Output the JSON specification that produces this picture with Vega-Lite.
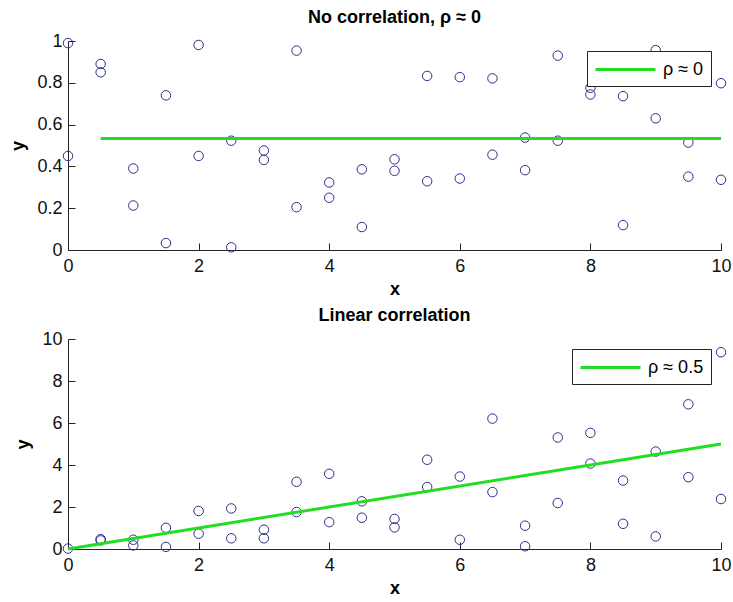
{
  "$schema": "https://vega.github.io/schema/vega-lite/v6.json",
  "padding": {"left": 9, "top": 9, "right": 0, "bottom": 0},
  "background": "white",
  "datasets": {
    "uncorrelated": [
      {"x": 0, "y": 0.99}, {"x": 0, "y": 0.45},
      {"x": 0.5, "y": 0.89}, {"x": 0.5, "y": 0.85},
      {"x": 1, "y": 0.39}, {"x": 1, "y": 0.213},
      {"x": 1.5, "y": 0.74}, {"x": 1.5, "y": 0.033},
      {"x": 2, "y": 0.981}, {"x": 2, "y": 0.45},
      {"x": 2.5, "y": 0.523}, {"x": 2.5, "y": 0.013},
      {"x": 3, "y": 0.476}, {"x": 3, "y": 0.431},
      {"x": 3.5, "y": 0.954}, {"x": 3.5, "y": 0.205},
      {"x": 4, "y": 0.323}, {"x": 4, "y": 0.25},
      {"x": 4.5, "y": 0.386}, {"x": 4.5, "y": 0.11},
      {"x": 5, "y": 0.434}, {"x": 5, "y": 0.379},
      {"x": 5.5, "y": 0.833}, {"x": 5.5, "y": 0.329},
      {"x": 6, "y": 0.827}, {"x": 6, "y": 0.342},
      {"x": 6.5, "y": 0.821}, {"x": 6.5, "y": 0.456},
      {"x": 7, "y": 0.538}, {"x": 7, "y": 0.382},
      {"x": 7.5, "y": 0.93}, {"x": 7.5, "y": 0.523},
      {"x": 8, "y": 0.776}, {"x": 8, "y": 0.744},
      {"x": 8.5, "y": 0.736}, {"x": 8.5, "y": 0.119},
      {"x": 9, "y": 0.956}, {"x": 9, "y": 0.63},
      {"x": 9.5, "y": 0.514}, {"x": 9.5, "y": 0.351},
      {"x": 10, "y": 0.798}, {"x": 10, "y": 0.336}
    ],
    "uncorrelatedFit": [
      {"x": 0.5, "y": 0.534, "fit": "ρ ≈ 0"},
      {"x": 10, "y": 0.534, "fit": "ρ ≈ 0"}
    ],
    "linear": [
      {"x": 0, "y": 0.02},
      {"x": 0.5, "y": 0.47}, {"x": 0.5, "y": 0.41},
      {"x": 1, "y": 0.44}, {"x": 1, "y": 0.17},
      {"x": 1.5, "y": 1.01}, {"x": 1.5, "y": 0.1},
      {"x": 2, "y": 1.81}, {"x": 2, "y": 0.73},
      {"x": 2.5, "y": 1.93}, {"x": 2.5, "y": 0.51},
      {"x": 3, "y": 0.92}, {"x": 3, "y": 0.51},
      {"x": 3.5, "y": 3.2}, {"x": 3.5, "y": 1.76},
      {"x": 4, "y": 3.58}, {"x": 4, "y": 1.28},
      {"x": 4.5, "y": 2.27}, {"x": 4.5, "y": 1.49},
      {"x": 5, "y": 1.43}, {"x": 5, "y": 1.03},
      {"x": 5.5, "y": 4.25}, {"x": 5.5, "y": 2.95},
      {"x": 6, "y": 3.45}, {"x": 6, "y": 0.44},
      {"x": 6.5, "y": 6.21}, {"x": 6.5, "y": 2.71},
      {"x": 7, "y": 1.11}, {"x": 7, "y": 0.13},
      {"x": 7.5, "y": 5.31}, {"x": 7.5, "y": 2.19},
      {"x": 8, "y": 5.53}, {"x": 8, "y": 4.07},
      {"x": 8.5, "y": 3.26}, {"x": 8.5, "y": 1.2},
      {"x": 9, "y": 4.64}, {"x": 9, "y": 0.6},
      {"x": 9.5, "y": 6.89}, {"x": 9.5, "y": 3.42},
      {"x": 10, "y": 9.37}, {"x": 10, "y": 2.38}
    ],
    "linearFit": [
      {"x": 0, "y": 0, "fit": "ρ ≈ 0.5"},
      {"x": 10, "y": 5.0, "fit": "ρ ≈ 0.5"}
    ]
  },
  "config": {
    "font": "Liberation Sans",
    "view": {"stroke": null},
    "title": {"fontSize": 18, "fontWeight": "bold", "color": "#000000", "offset": 5, "anchor": "middle"},
    "axis": {
      "grid": false,
      "domainColor": "#222222",
      "domainWidth": 1,
      "ticks": true,
      "tickColor": "#222222",
      "tickWidth": 1,
      "tickSize": -7,
      "labelFontSize": 18,
      "labelColor": "#111111",
      "titleFontSize": 18,
      "titleFontWeight": "bold",
      "titleColor": "#000000"
    },
    "axisX": {"labelPadding": 14, "titlePadding": 5, "labelFlush": false},
    "axisY": {"labelPadding": 13, "titlePadding": 9, "labelFlush": false},
    "legend": {
      "orient": "top-right",
      "offset": 10,
      "padding": 7,
      "strokeColor": "#222222",
      "fillColor": "#ffffff",
      "cornerRadius": 0,
      "labelFontSize": 18,
      "labelColor": "#000000",
      "symbolType": "M-1,0H5",
      "symbolSize": 400,
      "symbolStrokeWidth": 3,
      "labelOffset": 46,
      "title": null
    }
  },
  "spacing": 9,
  "vconcat": [
    {
      "title": "No correlation, ρ ≈ 0",
      "width": 653,
      "height": 209,
      "layer": [
        {
          "data": {"name": "uncorrelated"},
          "mark": {"type": "point", "filled": false, "stroke": "#2e2e8a", "strokeWidth": 1, "size": 90, "opacity": 1},
          "encoding": {
            "x": {"field": "x", "type": "quantitative", "scale": {"domain": [0, 10], "nice": false}, "axis": {"values": [0, 2, 4, 6, 8, 10], "format": "d", "title": "x"}},
            "y": {"field": "y", "type": "quantitative", "scale": {"domain": [0, 1], "nice": false}, "axis": {"values": [0, 0.2, 0.4, 0.6, 0.8, 1], "format": ".1~f", "title": "y"}}
          }
        },
        {
          "data": {"name": "uncorrelatedFit"},
          "mark": {"type": "line", "strokeWidth": 3},
          "encoding": {
            "x": {"field": "x", "type": "quantitative"},
            "y": {"field": "y", "type": "quantitative"},
            "stroke": {"field": "fit", "type": "nominal", "scale": {"range": ["#22dd22"]}, "legend": {"title": null}}
          }
        }
      ]
    },
    {
      "title": "Linear correlation",
      "width": 653,
      "height": 210,
      "layer": [
        {
          "data": {"name": "linear"},
          "mark": {"type": "point", "filled": false, "stroke": "#2e2e8a", "strokeWidth": 1, "size": 90, "opacity": 1},
          "encoding": {
            "x": {"field": "x", "type": "quantitative", "scale": {"domain": [0, 10], "nice": false}, "axis": {"values": [0, 2, 4, 6, 8, 10], "format": "d", "title": "x"}},
            "y": {"field": "y", "type": "quantitative", "scale": {"domain": [0, 10], "nice": false}, "axis": {"values": [0, 2, 4, 6, 8, 10], "format": "d", "title": "y"}}
          }
        },
        {
          "data": {"name": "linearFit"},
          "mark": {"type": "line", "strokeWidth": 3},
          "encoding": {
            "x": {"field": "x", "type": "quantitative"},
            "y": {"field": "y", "type": "quantitative"},
            "stroke": {"field": "fit", "type": "nominal", "scale": {"range": ["#22dd22"]}, "legend": {"title": null}}
          }
        }
      ]
    }
  ],
  "resolve": {"scale": {"stroke": "independent", "y": "independent"}, "legend": {"stroke": "independent"}}
}
